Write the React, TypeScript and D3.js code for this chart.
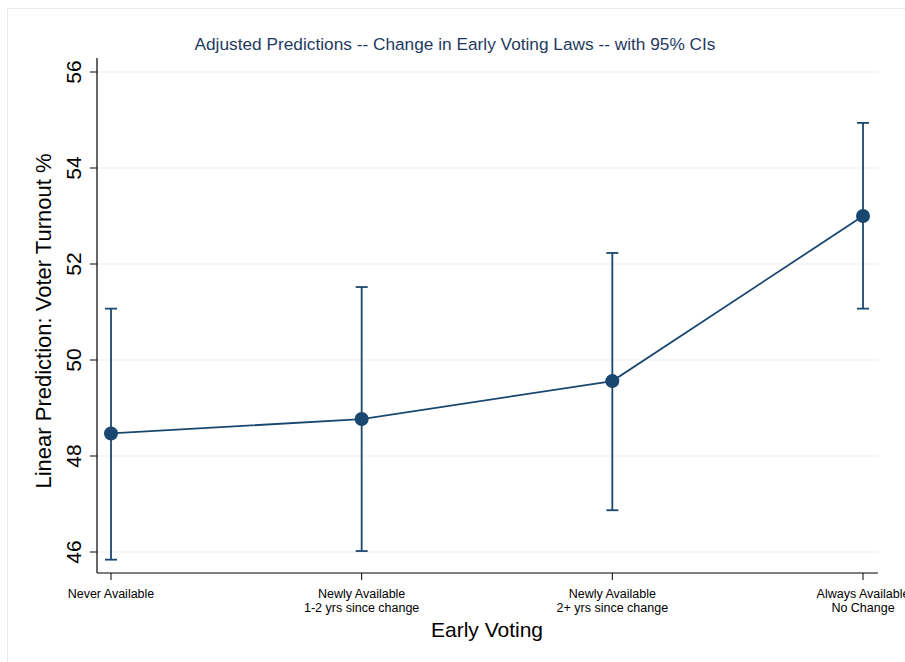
import * as d3 from "d3";

const categories = [
  ["Never Available"],
  ["Newly Available", "1-2 yrs since change"],
  ["Newly Available", "2+ yrs since change"],
  ["Always Available", "No Change"],
];
const predictions = [48.47, 48.77, 49.56, 53.0];
const ciLower = [45.84, 46.02, 46.87, 51.07];
const ciUpper = [51.07, 51.52, 52.23, 54.94];
const yTickValues = [46, 48, 50, 52, 54, 56];

const W = 905;
const H = 662;
const NAVY = "#1a476f";
const sans = "'Liberation Sans', Arial, Helvetica, sans-serif";
const narrow = "'Liberation Sans Narrow', 'Arial Narrow', 'Liberation Sans', sans-serif";

export default function App() {
  const plotLeft = 97;
  const plotRight = 878;
  const plotTop = 58;
  const plotBottom = 573;

  const x = d3.scalePoint<number>().domain(d3.range(categories.length)).range([111, 863]);
  const y = d3.scaleLinear().domain([46, 56]).range([552, 72]);

  const line = d3
    .line<number>()
    .x((_, i) => x(i) ?? 0)
    .y((d) => y(d));

  return (
    <svg
      width={W}
      height={H}
      style={{ position: "absolute", left: 0, top: 0, background: "#fff" }}
    >
      <rect x={7.5} y={8.5} width={W + 10} height={H + 10} fill="#fff" stroke="#e6eaec" />

      <text
        x={455}
        y={50}
        textAnchor="middle"
        fontFamily={sans}
        fontSize={16.8}
        textLength={521}
        lengthAdjust="spacingAndGlyphs"
        fill="#1f3a5f"
      >
        Adjusted Predictions -- Change in Early Voting Laws -- with 95% CIs
      </text>

      {yTickValues.map((t) => (
        <g key={t}>
          <line x1={plotLeft} x2={plotRight} y1={y(t)} y2={y(t)} stroke="#eaf2f3" strokeWidth={1.2} />
          <line x1={plotLeft - 7} x2={plotLeft} y1={y(t)} y2={y(t)} stroke="#000" strokeWidth={1} />
          <text
            transform={`translate(${81},${y(t)}) rotate(-90)`}
            textAnchor="middle"
            fontFamily={sans}
            fontSize={21}
            fill="#000"
          >
            {t}
          </text>
        </g>
      ))}

      <line x1={plotLeft} x2={plotLeft} y1={plotTop} y2={plotBottom} stroke="#000" strokeWidth={1.2} />
      <line x1={plotLeft} x2={plotRight} y1={plotBottom} y2={plotBottom} stroke="#000" strokeWidth={1.2} />

      {categories.map((lines, i) => (
        <g key={i}>
          <line x1={x(i)} x2={x(i)} y1={plotBottom} y2={plotBottom + 7} stroke="#000" strokeWidth={1} />
          {lines.map((s, j) => (
            <text
              key={j}
              x={x(i)}
              y={plotBottom + 25 + j * 14}
              textAnchor="middle"
              fontFamily={narrow}
              fontSize={12.5}
              fill="#000"
            >
              {s}
            </text>
          ))}
        </g>
      ))}

      <text
        transform="translate(51,321) rotate(-90)"
        textAnchor="middle"
        fontFamily={sans}
        fontSize={22}
        fill="#000"
      >
        Linear Prediction: Voter Turnout %
      </text>
      <text x={487} y={637} textAnchor="middle" fontFamily={narrow} fontSize={21} fill="#000">
        Early Voting
      </text>

      {predictions.map((_, i) => (
        <g key={i} stroke={NAVY} strokeWidth={1.8}>
          <line x1={x(i)} x2={x(i)} y1={y(ciLower[i])} y2={y(ciUpper[i])} />
          <line x1={(x(i) ?? 0) - 6} x2={(x(i) ?? 0) + 6} y1={y(ciLower[i])} y2={y(ciLower[i])} />
          <line x1={(x(i) ?? 0) - 6} x2={(x(i) ?? 0) + 6} y1={y(ciUpper[i])} y2={y(ciUpper[i])} />
        </g>
      ))}

      <path d={line(predictions) ?? undefined} fill="none" stroke={NAVY} strokeWidth={1.8} />

      {predictions.map((d, i) => (
        <circle key={i} cx={x(i)} cy={y(d)} r={7} fill={NAVY} />
      ))}
    </svg>
  );
}
